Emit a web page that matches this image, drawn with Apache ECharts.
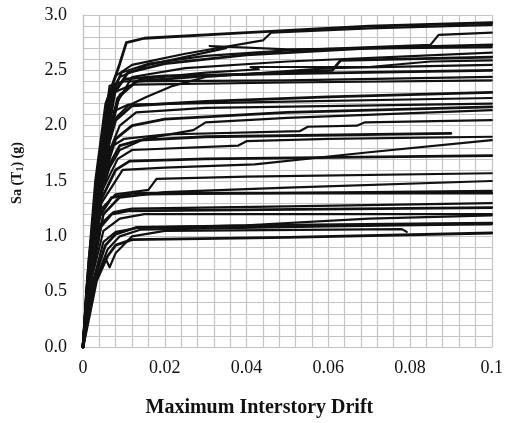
<!DOCTYPE html>
<html>
<head>
<meta charset="utf-8">
<script src="https://cdn.jsdelivr.net/npm/echarts@6/dist/echarts.min.js"></script>
<style>html,body{margin:0;padding:0;background:#fff}#c{width:506px;height:423px}</style>
</head>
<body>
<div id="c"></div>
<script>
// Axis ticks
const xTicks = [0, 0.02, 0.04, 0.06, 0.08, 0.1];
const yTicks = [0.0, 0.5, 1.0, 1.5, 2.0, 2.5, 3.0];

// IDA curves: [max interstory drift, Sa(T1) (g)]
const rec01 = [[0,0],[0.0015,0.8],[0.0045,1.75],[0.0073,2.38],[0.009,2.56],[0.0106,2.75],[0.015,2.79],[0.04,2.84],[0.07,2.90],[0.1,2.93]];
const rec02 = [[0,0],[0.001,0.6],[0.003,1.5],[0.0055,2.2],[0.008,2.45],[0.012,2.55],[0.025,2.65],[0.044,2.77],[0.046,2.84],[0.07,2.88],[0.1,2.91]];
const rec03 = [[0,0],[0.0012,0.6],[0.0035,1.5],[0.0062,2.25],[0.0095,2.48],[0.016,2.56],[0.03,2.63],[0.05,2.68],[0.085,2.73],[0.087,2.82],[0.1,2.84]];
const rec04 = [[0,0],[0.0018,0.7],[0.0045,1.6],[0.0078,2.3],[0.011,2.48],[0.02,2.56],[0.04,2.64],[0.07,2.70],[0.1,2.73]];
const rec05 = [[0,0],[0.0008,0.5],[0.003,1.4],[0.006,2.2],[0.009,2.44],[0.016,2.55],[0.035,2.70],[0.031,2.72],[0.05,2.69],[0.1,2.71]];
const rec06 = [[0,0],[0.002,0.7],[0.005,1.6],[0.007,2.0],[0.0085,2.22],[0.012,2.44],[0.025,2.52],[0.05,2.58],[0.1,2.66]];
const rec07 = [[0,0],[0.0015,0.6],[0.0042,1.4],[0.0065,1.95],[0.0085,2.25],[0.013,2.40],[0.03,2.45],[0.061,2.50],[0.063,2.59],[0.1,2.62]];
const rec08 = [[0,0],[0.002,0.7],[0.005,1.55],[0.0075,2.05],[0.009,2.28],[0.014,2.42],[0.03,2.48],[0.043,2.51],[0.041,2.53],[0.07,2.53],[0.085,2.58],[0.1,2.59]];
const rec09 = [[0,0],[0.0012,0.55],[0.0035,1.35],[0.0055,1.8],[0.0075,2.05],[0.011,2.18],[0.0155,2.26],[0.022,2.36],[0.03,2.44],[0.06,2.52],[0.1,2.55]];
const rec10 = [[0,0],[0.0009,0.5],[0.0035,1.35],[0.007,2.28],[0.01,2.42],[0.02,2.45],[0.05,2.47],[0.1,2.50]];
const rec11 = [[0,0],[0.001,0.55],[0.0035,1.5],[0.0065,2.36],[0.01,2.40],[0.05,2.41],[0.1,2.44]];
const rec12 = [[0,0],[0.0016,0.7],[0.0042,1.6],[0.0075,2.30],[0.012,2.37],[0.05,2.39],[0.1,2.41]];
const rec13 = [[0,0],[0.0014,0.6],[0.004,1.4],[0.006,1.8],[0.008,2.05],[0.012,2.18],[0.03,2.22],[0.06,2.26],[0.1,2.30]];
const rec14 = [[0,0],[0.001,0.55],[0.0035,1.5],[0.0068,2.12],[0.011,2.19],[0.04,2.21],[0.1,2.25]];
const rec15 = [[0,0],[0.002,0.65],[0.005,1.5],[0.007,1.82],[0.009,2.0],[0.013,2.12],[0.03,2.16],[0.1,2.20]];
const rec16 = [[0,0],[0.0015,0.6],[0.004,1.3],[0.006,1.65],[0.008,1.88],[0.012,2.0],[0.02,2.06],[0.05,2.12],[0.1,2.17]];
const rec17 = [[0,0],[0.0012,0.55],[0.004,1.35],[0.0065,1.62],[0.009,1.78],[0.015,1.88],[0.027,1.96],[0.03,2.03],[0.05,2.07],[0.1,2.14]];
const rec18 = [[0,0],[0.001,0.5],[0.003,1.2],[0.0065,1.8],[0.01,1.88],[0.02,1.92],[0.053,1.95],[0.055,1.99],[0.067,2.0],[0.069,2.03],[0.1,2.05]];
const rec19 = [[0,0],[0.002,0.65],[0.0045,1.4],[0.0065,1.65],[0.009,1.82],[0.014,1.87],[0.03,1.90],[0.09,1.93]];
const rec20 = [[0,0],[0.0015,0.6],[0.0045,1.4],[0.0085,1.7],[0.012,1.78],[0.038,1.82],[0.040,1.86],[0.06,1.88],[0.1,1.90]];
const rec21 = [[0,0],[0.0017,0.6],[0.0045,1.3],[0.0097,1.6],[0.02,1.62],[0.042,1.65],[0.07,1.76],[0.1,1.87]];
const rec22 = [[0,0],[0.0013,0.55],[0.004,1.3],[0.008,1.6],[0.0114,1.68],[0.03,1.70],[0.1,1.73]];
const rec23 = [[0,0],[0.0015,0.55],[0.0045,1.25],[0.008,1.38],[0.016,1.42],[0.018,1.52],[0.04,1.54],[0.1,1.57]];
const rec24 = [[0,0],[0.0018,0.6],[0.005,1.2],[0.009,1.35],[0.02,1.40],[0.05,1.44],[0.1,1.50]];
const rec25 = [[0,0],[0.001,0.5],[0.0035,1.15],[0.007,1.35],[0.012,1.39],[0.05,1.39],[0.1,1.39]];
const rec26 = [[0,0],[0.0022,0.65],[0.005,1.2],[0.009,1.36],[0.015,1.38],[0.1,1.41]];
const rec27 = [[0,0],[0.0015,0.55],[0.004,1.1],[0.0075,1.22],[0.012,1.25],[0.05,1.27],[0.1,1.30]];
const rec28 = [[0,0],[0.001,0.45],[0.0035,1.05],[0.007,1.2],[0.011,1.23],[0.1,1.26]];
const rec29 = [[0,0],[0.002,0.6],[0.005,1.05],[0.009,1.16],[0.015,1.20],[0.1,1.20]];
const rec30 = [[0,0],[0.0018,0.5],[0.005,0.95],[0.008,1.04],[0.014,1.08],[0.04,1.10],[0.07,1.16],[0.1,1.19]];
const rec31 = [[0,0],[0.0022,0.55],[0.0055,0.92],[0.008,1.02],[0.013,1.08],[0.05,1.10],[0.1,1.12]];
const rec32 = [[0,0],[0.003,0.6],[0.006,0.88],[0.009,1.0],[0.014,1.06],[0.06,1.09],[0.1,1.11]];
const rec33 = [[0,0],[0.0025,0.55],[0.0055,0.8],[0.0065,0.72],[0.008,0.85],[0.012,1.0],[0.02,1.05],[0.078,1.065],[0.0792,1.04]];
const rec34 = [[0,0],[0.0033,0.6],[0.006,0.82],[0.008,0.92],[0.012,0.97],[0.05,0.99],[0.1,1.03]];

const records = [rec01,rec02,rec03,rec04,rec05,rec06,rec07,rec08,rec09,rec10,rec11,rec12,rec13,rec14,rec15,rec16,rec17,rec18,rec19,rec20,rec21,rec22,rec23,rec24,rec25,rec26,rec27,rec28,rec29,rec30,rec31,rec32,rec33,rec34];

const chart = echarts.init(document.getElementById('c'), null, {renderer: 'canvas'});
const gridColor = '#c4c4c4';
const font = 'Liberation Serif';

chart.setOption({
  animation: false,
  backgroundColor: '#fff',
  grid: {left: 83, right: 11, top: 15, bottom: 75, containLabel: false},
  xAxis: {
    type: 'value', min: 0, max: 0.1, interval: 0.02,
    name: 'Maximum Interstory Drift', nameLocation: 'middle', nameGap: 51,
    nameTextStyle: {fontFamily: font, fontWeight: 'bold', fontSize: 20, color: '#111', padding: [0, 56, 0, 0]},
    axisLine: {show: true, lineStyle: {color: gridColor, width: 1.2}},
    axisTick: {show: false},
    axisLabel: {fontFamily: font, fontSize: 18, color: '#111', margin: 12,
      formatter: v => (v === 0 ? '0' : (Math.abs(v - 0.1) < 1e-9 ? '0.1' : v.toFixed(2)))},
    splitLine: {show: true, lineStyle: {color: gridColor, width: 1.2}},
    minorTick: {show: false, splitNumber: 5},
    minorSplitLine: {show: true, lineStyle: {color: gridColor, width: 1.2}}
  },
  yAxis: {
    type: 'value', min: 0, max: 3, interval: 0.5,
    name: '{a|Sa (T}{s|1}{a|) (g)}', nameLocation: 'middle', nameGap: 58, nameRotate: 90,
    nameTextStyle: {
      padding: [0, 0, 0, 16],
      rich: {
        a: {fontFamily: font, fontWeight: 'bold', fontSize: 14, color: '#111', lineHeight: 16},
        s: {fontFamily: font, fontWeight: 'bold', fontSize: 10, color: '#111', lineHeight: 16, verticalAlign: 'bottom', padding: [6, 0, 0, 0]}
      }
    },
    axisLine: {show: true, lineStyle: {color: gridColor, width: 1.2}},
    axisTick: {show: false},
    axisLabel: {fontFamily: font, fontSize: 18, color: '#111', margin: 16,
      formatter: v => v.toFixed(1)},
    splitLine: {show: true, lineStyle: {color: gridColor, width: 1.2}},
    minorTick: {show: false, splitNumber: 5},
    minorSplitLine: {show: true, lineStyle: {color: gridColor, width: 1.2}}
  },
  series: records.map((r, i) => ({
    type: 'line', data: r, showSymbol: false, symbol: 'none', smooth: false,
    lineStyle: {color: '#111', width: (i % 3 === 0) ? 2.8 : 2.2, join: 'round', cap: 'round'}, z: 3
  }))
});
</script>
</body>
</html>
